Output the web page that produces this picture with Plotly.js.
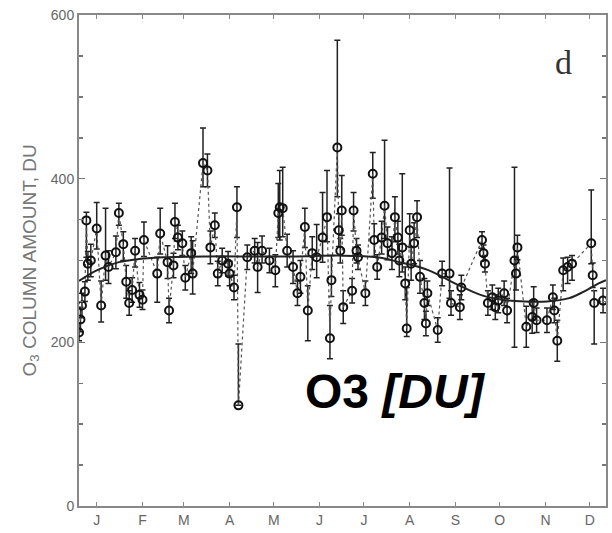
<!DOCTYPE html>
<html>
<head>
<meta charset="utf-8">
<script src="https://cdn.plot.ly/plotly-3.0.1.min.js"></script>
<style>html,body{margin:0;padding:0;background:#fff;}#chart{width:612px;height:533px;}</style>
</head>
<body>
<div id="chart"></div>
<script>
// Observation day of year
const days = [3,4,5,7,8,9,11,15,18,21,23,28,30,33,35,37,39,41,44,46,47,56,58,63,64,67,68,70,73,75,79,80,87,90,92,95,97,100,104,105,108,110,111,117,122,124,127,132,136,138,139,141,144,148,151,153,156,158,161,164,168,171,173,174,178,179,180,181,182,188,189,191,192,197,202,203,205,208,210,212,215,217,219,220,222,224,225,227,228,230,232,234,237,238,239,246,249,254,255,261,262,276,277,278,280,283,285,287,291,293,298,299,300,306,310,311,313,320,324,325,327,331,334,337,350,351,352,358];
// O3 column amount, DU
const o3 = [212,228,245,262,349,296,300,339,245,306,292,310,358,320,274,248,264,312,258,252,325,284,333,298,239,294,347,328,321,279,309,284,419,410,316,343,284,300,296,284,267,365,123,304,312,292,312,300,288,358,365,364,312,292,260,280,341,239,309,304,328,353,205,276,438,337,312,361,243,263,361,312,304,260,406,325,292,328,367,321,309,353,328,300,316,272,217,337,296,321,353,280,248,223,260,215,284,284,248,243,267,325,309,296,248,255,243,251,260,239,300,284,316,219,231,248,227,227,255,239,202,288,292,296,321,282,248,251];
// upper error
const errHi = [12,15,15,12,10,15,20,32,30,58,20,20,12,15,20,15,15,15,15,12,22,20,31,20,15,15,23,15,15,15,20,40,43,20,20,15,15,15,15,15,15,25,75,15,15,30,18,15,19,36,45,50,20,20,15,20,23,30,20,40,55,57,40,30,131,20,15,43,20,15,22,15,15,15,26,20,15,20,80,20,20,25,20,20,90,20,50,20,20,25,20,20,30,15,15,15,15,129,15,15,15,10,10,10,15,15,15,15,15,15,114,20,15,25,20,20,15,15,15,15,25,15,12,10,65,15,15,15];
// lower error
const errLo = [10,15,15,12,45,20,20,25,20,30,20,20,15,20,20,15,15,20,15,12,20,35,25,20,15,15,20,15,15,15,25,25,29,20,20,15,15,15,15,15,15,37,0,15,15,31,15,15,20,30,40,35,20,20,15,20,25,37,20,25,30,30,25,20,60,20,15,30,20,15,25,15,15,15,30,20,15,20,40,20,20,30,20,20,30,20,10,20,20,25,25,20,20,15,15,15,15,30,15,15,15,10,10,10,15,15,15,15,15,15,106,20,15,25,20,20,15,15,15,15,25,25,20,20,25,15,50,15];
// seasonal fit curve
const fitDays = [3,15,30,45,60,90,120,150,180,205,220,240,260,275,290,305,320,335,345,355,360];
const fitVals = [275,288,298,302,304,305,305,305,306,304,298,288,270,258,252,250,250,254,262,272,276];
// axis labels
const monthTicks = [15,46,74,105,135,166,196,227,258,288,319,349];
const monthLabels = ['J','F','M','A','M','J','J','A','S','O','N','D'];
const yTickVals = [0,200,400,600];
const yTickText = ['0','200','400','600'];

const traces = [
  {
    x: days, y: o3, type: 'scatter', mode: 'lines+markers',
    line: {color: '#555', width: 1.2, dash: 'dot'},
    marker: {symbol: 'circle-open', size: 8, color: '#111', line: {width: 2, color: '#111'}},
    error_y: {type: 'data', symmetric: false, array: errHi, arrayminus: errLo,
              color: '#222', thickness: 1.5, width: 3},
    hoverinfo: 'x+y'
  },
  {
    x: fitDays, y: fitVals, type: 'scatter', mode: 'lines',
    line: {color: '#222', width: 2, shape: 'spline'},
    hoverinfo: 'skip'
  }
];

const layout = {
  width: 612, height: 533,
  margin: {l: 79, r: 6, t: 15, b: 27},
  paper_bgcolor: '#fff', plot_bgcolor: '#fff',
  showlegend: false,
  font: {family: 'Liberation Sans, Arial, sans-serif', color: '#666'},
  xaxis: {
    range: [3, 360], tickvals: monthTicks, ticktext: monthLabels,
    ticks: 'inside', ticklen: 4, tickcolor: '#888', tickwidth: 1,
    showline: true, linecolor: '#888', linewidth: 2, mirror: 'ticks',
    showgrid: false, zeroline: false,
    tickfont: {size: 14, color: '#666'}
  },
  yaxis: {
    range: [0, 600], tickvals: yTickVals, ticktext: yTickText,
    ticks: 'inside', ticklen: 6, tickcolor: '#777', tickwidth: 1.5,
    minor: {dtick: 50, tick0: 0, ticks: 'inside', ticklen: 4, tickcolor: '#777', tickwidth: 1.5, showgrid: false},
    showline: true, linecolor: '#888', linewidth: 2, mirror: 'ticks',
    showgrid: false, zeroline: false,
    tickfont: {size: 14, color: '#666'}
  },
  annotations: [
    {xref: 'paper', yref: 'paper', x: 0, y: 0.5, xshift: -49, xanchor: 'center', yanchor: 'middle', textangle: -90,
     text: 'O<sub>3</sub> COLUMN AMOUNT, DU', showarrow: false,
     font: {size: 19, color: '#777', family: 'Liberation Sans, Arial, sans-serif'}},
    {xref: 'paper', yref: 'paper', x: 0.920, y: 0.904, xanchor: 'center', yanchor: 'middle', text: 'd', showarrow: false,
     font: {size: 34, color: '#333', family: 'Liberation Serif, Times New Roman, serif'}},
    {xref: 'paper', yref: 'paper', x: 0.6015, y: 0.234, xanchor: 'center', yanchor: 'middle', text: '<b>O3 <i>[DU]</i></b>', showarrow: false,
     font: {size: 48, color: '#000', family: 'Liberation Sans, Arial, sans-serif'}}
  ]
};

Plotly.newPlot('chart', traces, layout, {displayModeBar: false, staticPlot: true});
</script>
</body>
</html>
